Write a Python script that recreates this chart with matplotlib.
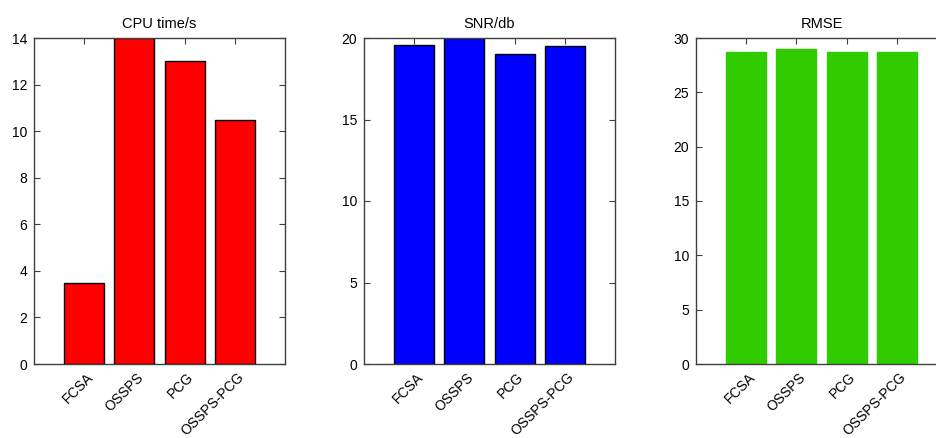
import numpy as np
import matplotlib.pyplot as plt
import matplotlib.transforms as mtransforms

plt.rcParams['font.family'] = ['Liberation Sans', 'DejaVu Sans']
plt.rcParams['font.size'] = 10

methods = ['FCSA', 'OSSPS', 'PCG', 'OSSPS-PCG']
cpu_time = [3.5, 14, 13, 10.5]
snr_db = [19.6, 20, 19, 19.5]
rmse = [28.7, 29, 28.7, 28.7]

panels = [
    ('CPU time/s', cpu_time, 'red', 'black', 14, np.arange(0, 15, 2)),
    ('SNR/db', snr_db, 'blue', 'black', 20, np.arange(0, 21, 5)),
    ('RMSE', rmse, '#30cc00', '#30cc00', 30, np.arange(0, 31, 5)),
]
lefts = [34, 364, 696]

fig = plt.figure(figsize=(9.37, 4.38), dpi=100)
# slanted labels hang just below each tick
offset = mtransforms.ScaledTranslation(2 / 100, -6 / 100, fig.dpi_scale_trans)
for (title, vals, fc, ec, ymax, yt), lx in zip(panels, lefts):
    ax = fig.add_axes([lx / 937, 74 / 438, 251 / 937, 326 / 438])
    x = np.arange(1, len(vals) + 1)
    ax.bar(x, vals, width=0.8, color=fc, edgecolor=ec, linewidth=1, zorder=2)
    ax.set_xlim(0, 5)
    ax.set_ylim(0, ymax)
    ax.set_yticks(yt)
    ax.set_xticks(x)
    ax.set_xticklabels([])
    for xi, name in zip(x, methods):
        ax.text(xi, 0, name, rotation=45, ha='right', va='top',
                rotation_mode='anchor', fontsize=10,
                transform=ax.get_xaxis_transform() + offset)
    ax.set_title(title, fontsize=10.5, pad=7)
    ax.tick_params(direction='in', length=4, width=0.8, color='#404040',
                   top=True, right=True, labelsize=10, pad=5)
    for sp in ax.spines.values():
        sp.set_color('#404040')
        sp.set_linewidth(1)
        sp.set_zorder(3)

fig.savefig('out.png', dpi=100)
